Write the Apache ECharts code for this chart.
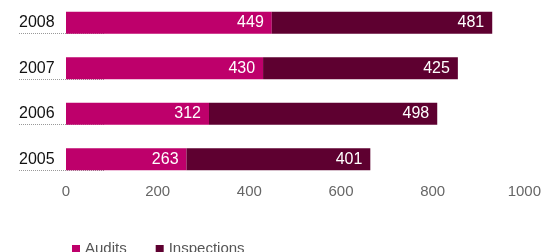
<!DOCTYPE html>
<html>
<head>
<meta charset="utf-8">
<script src="https://cdn.jsdelivr.net/npm/echarts@6/dist/echarts.min.js"></script>
<style>
html,body{margin:0;padding:0;background:#fff;}
#chart{width:544px;height:252px;}
</style>
</head>
<body>
<div id="chart"></div>
<script>
// data
var years = ['2005', '2006', '2007', '2008'];
var audits = [263, 312, 430, 449];
var inspections = [401, 498, 425, 481];
var seriesNames = ['Audits', 'Inspections'];
var xTicks = [0, 200, 400, 600, 800, 1000];

var chart = echarts.init(document.getElementById('chart'));

var barLabel = {
    show: true,
    position: 'insideRight',
    distance: 8,
    color: '#fff',
    fontFamily: 'Liberation Sans',
    fontSize: 16
};

var option = {
    animation: false,
    legend: {
        left: 67,
        top: 236,
        itemWidth: 8,
        itemHeight: 7,
        itemGap: 29,
        icon: 'rect',
        textStyle: { color: '#555', fontFamily: 'Liberation Sans', fontSize: 15 },
        data: seriesNames
    },
    grid: [
        { left: 66, right: 17, top: 0, height: 182 },
        // dotted rules under the year labels
        { left: 19, width: 86, top: 33.5, height: 136.5 }
    ],
    xAxis: [
        {
            gridIndex: 0,
            type: 'value',
            min: xTicks[0],
            max: xTicks[xTicks.length - 1],
            interval: 200,
            axisLine: { show: false },
            axisTick: { show: false },
            splitLine: { show: false },
            axisLabel: {
                margin: 2,
                color: '#666',
                fontFamily: 'Liberation Sans',
                fontSize: 15,
                formatter: function (v) { return String(v); }
            }
        },
        { gridIndex: 1, type: 'value', show: false }
    ],
    yAxis: [
        {
            gridIndex: 0,
            type: 'category',
            data: years,
            axisLine: { show: false },
            axisTick: { show: false },
            axisLabel: {
                margin: 47,
                align: 'left',
                color: '#111',
                fontFamily: 'Liberation Sans',
                fontSize: 16
            }
        },
        {
            gridIndex: 1,
            type: 'category',
            data: years.slice(1),
            axisLine: { show: false },
            axisTick: { show: false },
            axisLabel: { show: false },
            splitLine: {
                show: true,
                lineStyle: { color: '#999', type: [1, 1], width: 1 }
            }
        }
    ],
    series: [
        {
            name: seriesNames[0],
            type: 'bar',
            stack: 'total',
            barWidth: 22,
            xAxisIndex: 0,
            yAxisIndex: 0,
            itemStyle: { color: '#be006b' },
            label: barLabel,
            z: 3,
            data: audits
        },
        {
            name: seriesNames[1],
            type: 'bar',
            stack: 'total',
            barWidth: 22,
            xAxisIndex: 0,
            yAxisIndex: 0,
            itemStyle: { color: '#5e0030' },
            label: barLabel,
            z: 3,
            data: inspections
        }
    ]
};

chart.setOption(option);
</script>
</body>
</html>
